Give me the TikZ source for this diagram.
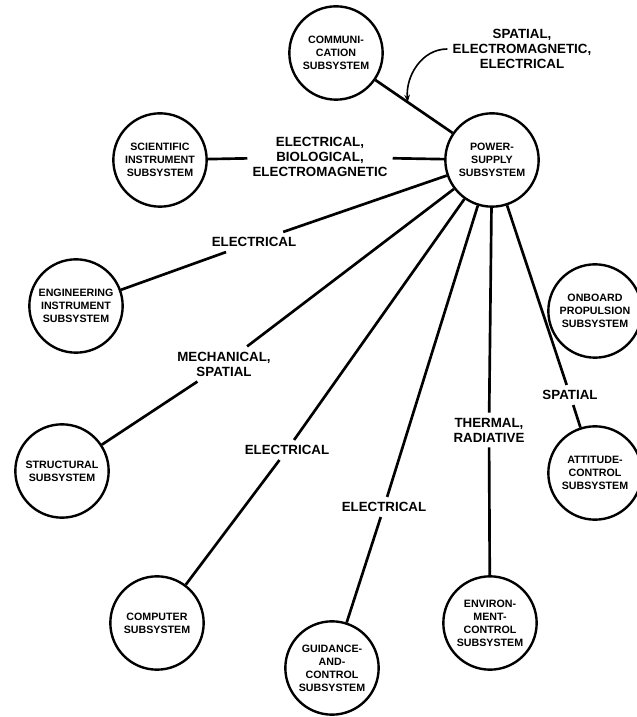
\documentclass[tikz,border=0pt]{standalone}
\usepackage{fontspec}
\setmainfont{Liberation Sans}
\usetikzlibrary{arrows.meta, calc}

\begin{document}
\begin{tikzpicture}[x=0.75pt, y=0.75pt, >={Stealth[length=2mm]}, line width=2pt,
  subsys/.style={circle, draw, line width=1.8pt, minimum size=70pt, inner sep=0pt,
    align=center, font=\fontsize{8}{9.8}\selectfont\bfseries},
  enlace/.style={align=center, inner sep=3pt, font=\fontsize{10}{11.3}\selectfont\bfseries}]
  \useasboundingbox (0,0) rectangle (636,717);
  % subsistemas
  \node[subsys] (pow) at (492,557) {POWER-\\SUPPLY\\SUBSYSTEM};
  \node[subsys] (com) at (336,664) {COMMUNI-\\CATION\\SUBSYSTEM};
  \node[subsys] (sci) at (160,557) {SCIENTIFIC\\INSTRUMENT\\SUBSYSTEM};
  \node[subsys] (eng) at (76,411) {ENGINEERING\\INSTRUMENT\\SUBSYSTEM};
  \node[subsys] (str) at (62,246) {STRUCTURAL\\SUBSYSTEM};
  \node[subsys] (cpu) at (157,94) {COMPUTER\\SUBSYSTEM};
  \node[subsys] (gnc) at (332,49) {GUIDANCE-\\AND-\\CONTROL\\SUBSYSTEM};
  \node[subsys] (env) at (490,94) {ENVIRON-\\MENT-\\CONTROL\\SUBSYSTEM};
  \node[subsys] (att) at (595,244) {ATTITUDE-\\CONTROL\\SUBSYSTEM};
  \node[subsys] (obp) at (595,406) {ONBOARD\\PROPULSION\\SUBSYSTEM};
  % etiquetas de los enlaces
  \node[enlace] (lcom) at (522,668) {SPATIAL,\\ELECTROMAGNETIC,\\ELECTRICAL};
  \node[enlace] (lsci) at (320,560) {ELECTRICAL,\\BIOLOGICAL,\\ELECTROMAGNETIC};
  \node[enlace] (leng) at (254,475) {ELECTRICAL};
  \node[enlace] (lstr) at (224,353) {MECHANICAL,\\SPATIAL};
  \node[enlace] (lcpu) at (287,267) {ELECTRICAL};
  \node[enlace] (lgnc) at (384,210) {ELECTRICAL};
  \node[enlace] (lenv) at (489,287) {THERMAL,\\RADIATIVE};
  \node[enlace] (latt) at (570,322) {SPATIAL};
  % enlaces desde la fuente de potencia
  \draw (pow) -- (com);
  \draw (pow) -- (lsci) -- (sci);
  \draw (pow) -- (leng) -- (eng);
  \draw (pow) -- (lstr) -- (str);
  \draw (pow) -- (lcpu) -- (cpu);
  \draw (pow) -- (lgnc) -- (gnc);
  \draw (pow) -- (lenv) -- (env);
  \draw (pow) -- (latt) -- (att);
  % flecha de la etiqueta superior
  \coordinate (tip) at ($(com)!0.46!(pow)$);
  \draw[->, line width=1.2pt] (lcom.west) to[out=180, in=95] (tip);
\end{tikzpicture}
\end{document}
